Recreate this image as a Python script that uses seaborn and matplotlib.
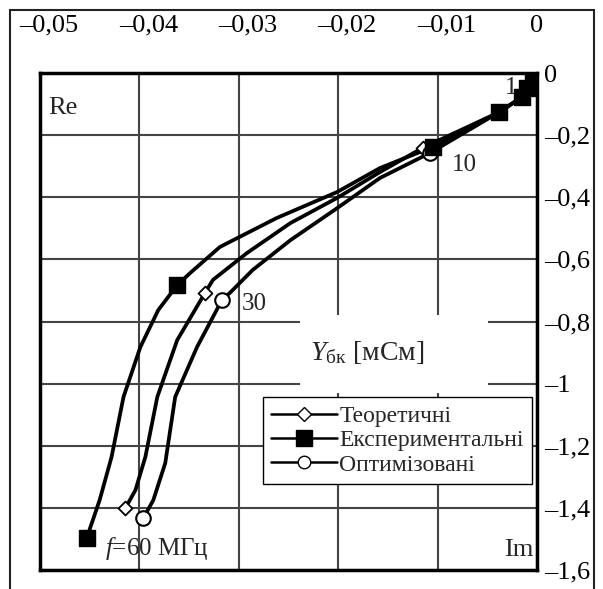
import matplotlib
matplotlib.use("Agg")
import matplotlib.pyplot as plt
import matplotlib.transforms as mtransforms
from matplotlib.lines import Line2D
from matplotlib.patches import Rectangle
import seaborn as sns
import pandas as pd

# ---- data ----
series_names = ["Теоретичні", "Експериментальні", "Оптимізовані"]

theo_x = [-0.0004, -0.0010, -0.0015, -0.0038, -0.0115, -0.0158, -0.0201, -0.0248,
          -0.0292, -0.0326, -0.0334, -0.0362, -0.0382, -0.0394, -0.0404, -0.0414]
theo_y = [-0.013, -0.048, -0.077, -0.126, -0.241, -0.319, -0.402, -0.483,
          -0.580, -0.666, -0.708, -0.860, -1.043, -1.236, -1.343, -1.400]
theo_marks = [4, 10, 15]

exp_x = [-0.0004, -0.0010, -0.0015, -0.0038, -0.0105, -0.0158, -0.0201, -0.0262,
         -0.0319, -0.0349, -0.0362, -0.0381, -0.0399, -0.0416, -0.0428, -0.0440, -0.0453]
exp_y = [-0.013, -0.048, -0.077, -0.126, -0.238, -0.306, -0.383, -0.467,
         -0.560, -0.644, -0.683, -0.763, -0.882, -1.043, -1.236, -1.375, -1.497]
exp_marks = [0, 1, 2, 3, 4, 10, 16]

opt_x = [-0.0004, -0.0010, -0.0015, -0.0038, -0.0108, -0.0158, -0.0201, -0.0248,
         -0.0286, -0.0309, -0.0317, -0.0342, -0.0364, -0.0374, -0.0386, -0.0396]
opt_y = [-0.013, -0.048, -0.077, -0.126, -0.258, -0.338, -0.435, -0.538,
         -0.634, -0.708, -0.731, -0.882, -1.043, -1.256, -1.375, -1.433]
opt_marks = [4, 10, 15]

x_ticks = [-0.05, -0.04, -0.03, -0.02, -0.01, 0]
x_tick_labels = ["–0,05", "–0,04", "–0,03", "–0,02", "–0,01", "0"]
y_ticks = [0, -0.2, -0.4, -0.6, -0.8, -1.0, -1.2, -1.4, -1.6]
y_tick_labels = ["0", "–0,2", "–0,4", "–0,6", "–0,8", "–1", "–1,2", "–1,4", "–1,6"]

# ---- style ----
sns.set_theme(style="white")
plt.rcParams["font.family"] = ["Liberation Serif", "DejaVu Serif"]
plt.rcParams["mathtext.fontset"] = "custom"
plt.rcParams["mathtext.rm"] = "Liberation Serif"
plt.rcParams["mathtext.it"] = "Liberation Serif:italic"

W, H = 603, 589
fig = plt.figure(figsize=(W / 100, H / 100), dpi=100)
L, R, T, B = 40, 537, 73, 570
ax = fig.add_axes([L / W, 1 - B / H, (R - L) / W, (B - T) / H])

# pixel (from top-left) transform for free text
pix = mtransforms.Affine2D().scale(1, -1).translate(0, H)

frames = []
for name, xs, ys in [(series_names[0], theo_x, theo_y),
                     (series_names[1], exp_x, exp_y),
                     (series_names[2], opt_x, opt_y)]:
    frames.append(pd.DataFrame({"x": xs, "y": ys, "series": name}))
df = pd.concat(frames, ignore_index=True)

sns.lineplot(data=df, x="x", y="y", hue="series", units="series", sort=False,
             estimator=None, palette=["black"] * 3, linewidth=2.7,
             legend=False, ax=ax, zorder=3)

mk_style = {
    series_names[0]: dict(marker="D", s=50, facecolor="white", edgecolor="black", linewidth=1.3),
    series_names[1]: dict(marker="s", s=130, facecolor="black", edgecolor="black", linewidth=1.0),
    series_names[2]: dict(marker="o", s=110, facecolor="white", edgecolor="black", linewidth=1.5),
}
for name, xs, ys, idx in [(series_names[0], theo_x, theo_y, theo_marks),
                          (series_names[2], opt_x, opt_y, opt_marks),
                          (series_names[1], exp_x, exp_y, exp_marks)]:
    sub = pd.DataFrame({"x": [xs[i] for i in idx], "y": [ys[i] for i in idx]})
    sns.scatterplot(data=sub, x="x", y="y", ax=ax, zorder=4, **mk_style[name])

ax.set_xlim(-0.05, 0)
ax.set_ylim(-1.6, 0)
ax.set_xticks(x_ticks)
ax.set_xticklabels(x_tick_labels)
ax.set_yticks(y_ticks)
ax.set_yticklabels(y_tick_labels)
ax.xaxis.tick_top()
ax.yaxis.tick_right()
ax.tick_params(axis="x", length=0, pad=26, labelsize=19, colors="black")
ax.tick_params(axis="y", length=0, pad=5, labelsize=19, colors="black")
for lab in ax.get_yticklabels():
    lab.set_horizontalalignment("left")
ax.set_xlabel("")
ax.set_ylabel("")
off = mtransforms.ScaledTranslation(9 / 100, 0, fig.dpi_scale_trans)
for tk in ax.xaxis.get_major_ticks()[:-1]:
    tk.label2.set_transform(tk.label2.get_transform() + off)

ax.grid(True, color="#444444", linewidth=1.5)
ax.set_axisbelow(True)
for sp in ax.spines.values():
    sp.set_color("black")
    sp.set_linewidth(2.5)
    sp.set_visible(True)

# white background behind the axis title
ax.add_patch(Rectangle((0.523, 0.356), 0.378, 0.157, transform=ax.transAxes,
                       facecolor="white", edgecolor="none", zorder=1))
ax.text(310, 353, r"$\mathit{Y}_{\mathrm{бк}}$ [мСм]", transform=pix,
        fontsize=20, va="center", ha="left", zorder=2)

# annotations
ax.text(48, 108, "Re", transform=pix, fontsize=19, va="center", ha="left")
ax.text(533, 550, "Im", transform=pix, fontsize=19, va="center", ha="right")
ax.text(505, 88, "1", transform=pix, fontsize=18, va="center", ha="left", zorder=2)
ax.text(452, 165, "10", transform=pix, fontsize=18, va="center", ha="left")
ax.text(242, 304, "30", transform=pix, fontsize=18, va="center", ha="left")
ax.text(105, 549, r"$\mathit{f}$=60 МГц", transform=pix, fontsize=18,
        va="center", ha="left")

# legend
handles = [
    Line2D([], [], color="black", linewidth=1.8, marker="D", markersize=7,
           markerfacecolor="white", markeredgecolor="black"),
    Line2D([], [], color="black", linewidth=1.8, marker="s", markersize=11,
           markerfacecolor="black", markeredgecolor="black"),
    Line2D([], [], color="black", linewidth=1.8, marker="o", markersize=9,
           markerfacecolor="white", markeredgecolor="black"),
]
leg = ax.legend(handles, series_names, loc="upper right",
                bbox_to_anchor=(0.99, 0.348), fontsize=17, frameon=True,
                fancybox=False, framealpha=1, edgecolor="black",
                borderpad=0.35, labelspacing=0.12, handlelength=2.8,
                handletextpad=0.1, borderaxespad=0)
leg.get_frame().set_linewidth(1.0)
leg.set_zorder(5)

# outer frame
fig.add_artist(Rectangle((10 / W, -0.05), 584 / W, 1.05 - 10 / H,
                         transform=fig.transFigure, facecolor="none",
                         edgecolor="#222222", linewidth=1.5))

fig.savefig("out.png", dpi=100)
